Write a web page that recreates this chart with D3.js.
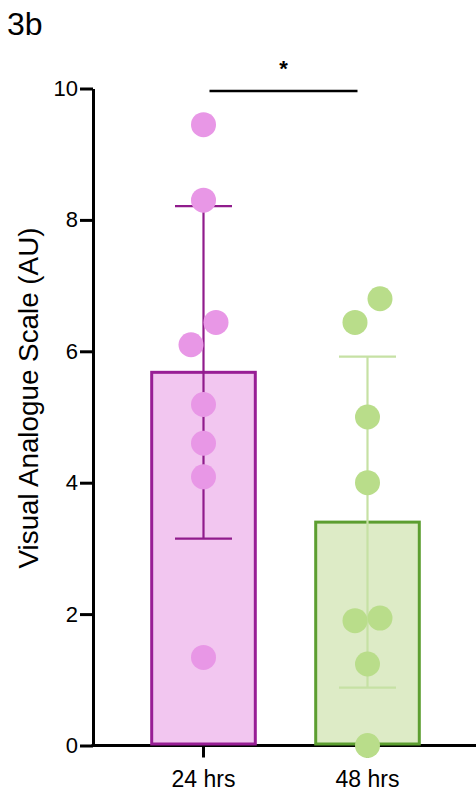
<!DOCTYPE html>
<html><head><meta charset="utf-8">
<script src="https://cdn.jsdelivr.net/npm/d3@7"></script>
<style>body{margin:0;background:#fff}svg{display:block}</style>
</head><body>
<svg id="c" width="476" height="792"></svg>
<script>
const categories = ["24 hrs", "48 hrs"];
const means = [5.68, 3.40];
const sds = [2.53, 2.52];
const points24 = [9.45, 8.30, 6.44, 6.10, 5.19, 4.60, 4.09, 1.34];
const points48 = [6.80, 6.44, 5.00, 4.00, 1.94, 1.90, 1.24, 0.0];
const yTicks = [0, 2, 4, 6, 8, 10];
const sigPair = ["24 hrs", "48 hrs"];
const sigLabel = "*";
const yLabel = "Visual Analogue Scale (AU)";
const panelLabel = "3b";

const colors = [
  {fill:"#F2C6F0", stroke:"#981E95", err:"#901C8C", dot:"#E897E6"},
  {fill:"#DDEBC6", stroke:"#5C9E30", err:"#C6E1A4", dot:"#B9DD8A"}
];
const font = "'Liberation Sans', Arial, Helvetica, sans-serif";
const svg = d3.select("#c");
const y = d3.scaleLinear().domain([0, 10]).range([745.5, 88.5]);
const x = d3.scaleBand().domain(categories).range([121.5, 449.5]).paddingInner(0.35).paddingOuter(0.175);
const axisX = 93;
const r = 12.5;

// panel label
svg.append("text").attr("x", 7).attr("y", 35).attr("font-family", font).attr("font-size", 32).text(panelLabel);

// y label
svg.append("text").attr("transform", `translate(38,398) rotate(-90)`).attr("text-anchor", "middle")
  .attr("font-family", font).attr("font-size", 27.8).text(yLabel);

// y axis
const ya = svg.append("g").attr("transform", `translate(${axisX},0)`)
  .call(d3.axisLeft(y).tickValues(yTicks).tickSize(13).tickSizeOuter(0).tickPadding(2));
ya.select(".domain").attr("stroke", "#000").attr("stroke-width", 3);
ya.selectAll(".tick line").attr("stroke", "#000").attr("stroke-width", 3);
ya.selectAll(".tick text").attr("font-family", font).attr("font-size", 22).attr("fill", "#000");

// x axis
const xa = svg.append("g").attr("transform", `translate(0,${y(0)})`)
  .call(d3.axisBottom(x).tickSize(12).tickSizeOuter(0).tickPadding(13));
xa.select(".domain").remove();
xa.selectAll(".tick line").attr("stroke", "#000").attr("stroke-width", 3);
xa.selectAll(".tick text").attr("font-family", font).attr("font-size", 23).attr("fill", "#000");
svg.append("line").attr("x1", axisX - 1.5).attr("x2", 476).attr("y1", y(0)).attr("y2", y(0))
  .attr("stroke", "#000").attr("stroke-width", 3);

// bars
const bw = x.bandwidth();
categories.forEach((c, i) => {
  const sw = 3;
  svg.append("rect").attr("x", x(c) + sw/2).attr("y", y(means[i]))
    .attr("width", bw - sw).attr("height", y(0) - y(means[i]) - 1.5)
    .attr("fill", colors[i].fill).attr("stroke", colors[i].stroke).attr("stroke-width", sw);
});

// error bars
categories.forEach((c, i) => {
  const cx = x(c) + bw/2, hi = y(means[i] + sds[i]), lo = y(means[i] - sds[i]);
  const g = svg.append("g").attr("stroke", colors[i].err).attr("stroke-width", 2.2);
  g.append("line").attr("x1", cx).attr("x2", cx).attr("y1", hi).attr("y2", lo);
  g.append("line").attr("x1", cx - 28.5).attr("x2", cx + 28.5).attr("y1", hi).attr("y2", hi);
  g.append("line").attr("x1", cx - 28.5).attr("x2", cx + 28.5).attr("y1", lo).attr("y2", lo);
});

// dots with simple swarm offsets
function swarm(vals) {
  const s = vals.slice().sort((a, b) => a - b);
  const out = []; let cluster = [s[0]];
  for (let k = 1; k <= s.length; k++) {
    if (k < s.length && Math.abs(y(s[k]) - y(cluster[cluster.length-1])) < 2*r) cluster.push(s[k]);
    else {
      cluster.forEach((v, j) => out.push({v, dx: (j - (cluster.length-1)/2) * 2 * r}));
      if (k < s.length) cluster = [s[k]];
    }
  }
  return out;
}
[points24, points48].forEach((pts, i) => {
  const cx = x(categories[i]) + bw/2;
  svg.append("g").selectAll("circle").data(swarm(pts)).join("circle")
    .attr("cx", d => cx + d.dx).attr("cy", d => y(d.v)).attr("r", r).attr("fill", colors[i].dot);
});

// significance
const sx1 = x(sigPair[0]) + bw/2 + 6, sx2 = x(sigPair[1]) + bw/2 - 10;
svg.append("line").attr("x1", sx1).attr("x2", sx2).attr("y1", 91).attr("y2", 91).attr("stroke", "#000").attr("stroke-width", 2.5);
svg.append("text").attr("x", (sx1 + sx2)/2).attr("y", 76).attr("text-anchor", "middle")
  .attr("font-family", font).attr("font-size", 22).attr("font-weight", "bold").text(sigLabel);
</script>
</body></html>
